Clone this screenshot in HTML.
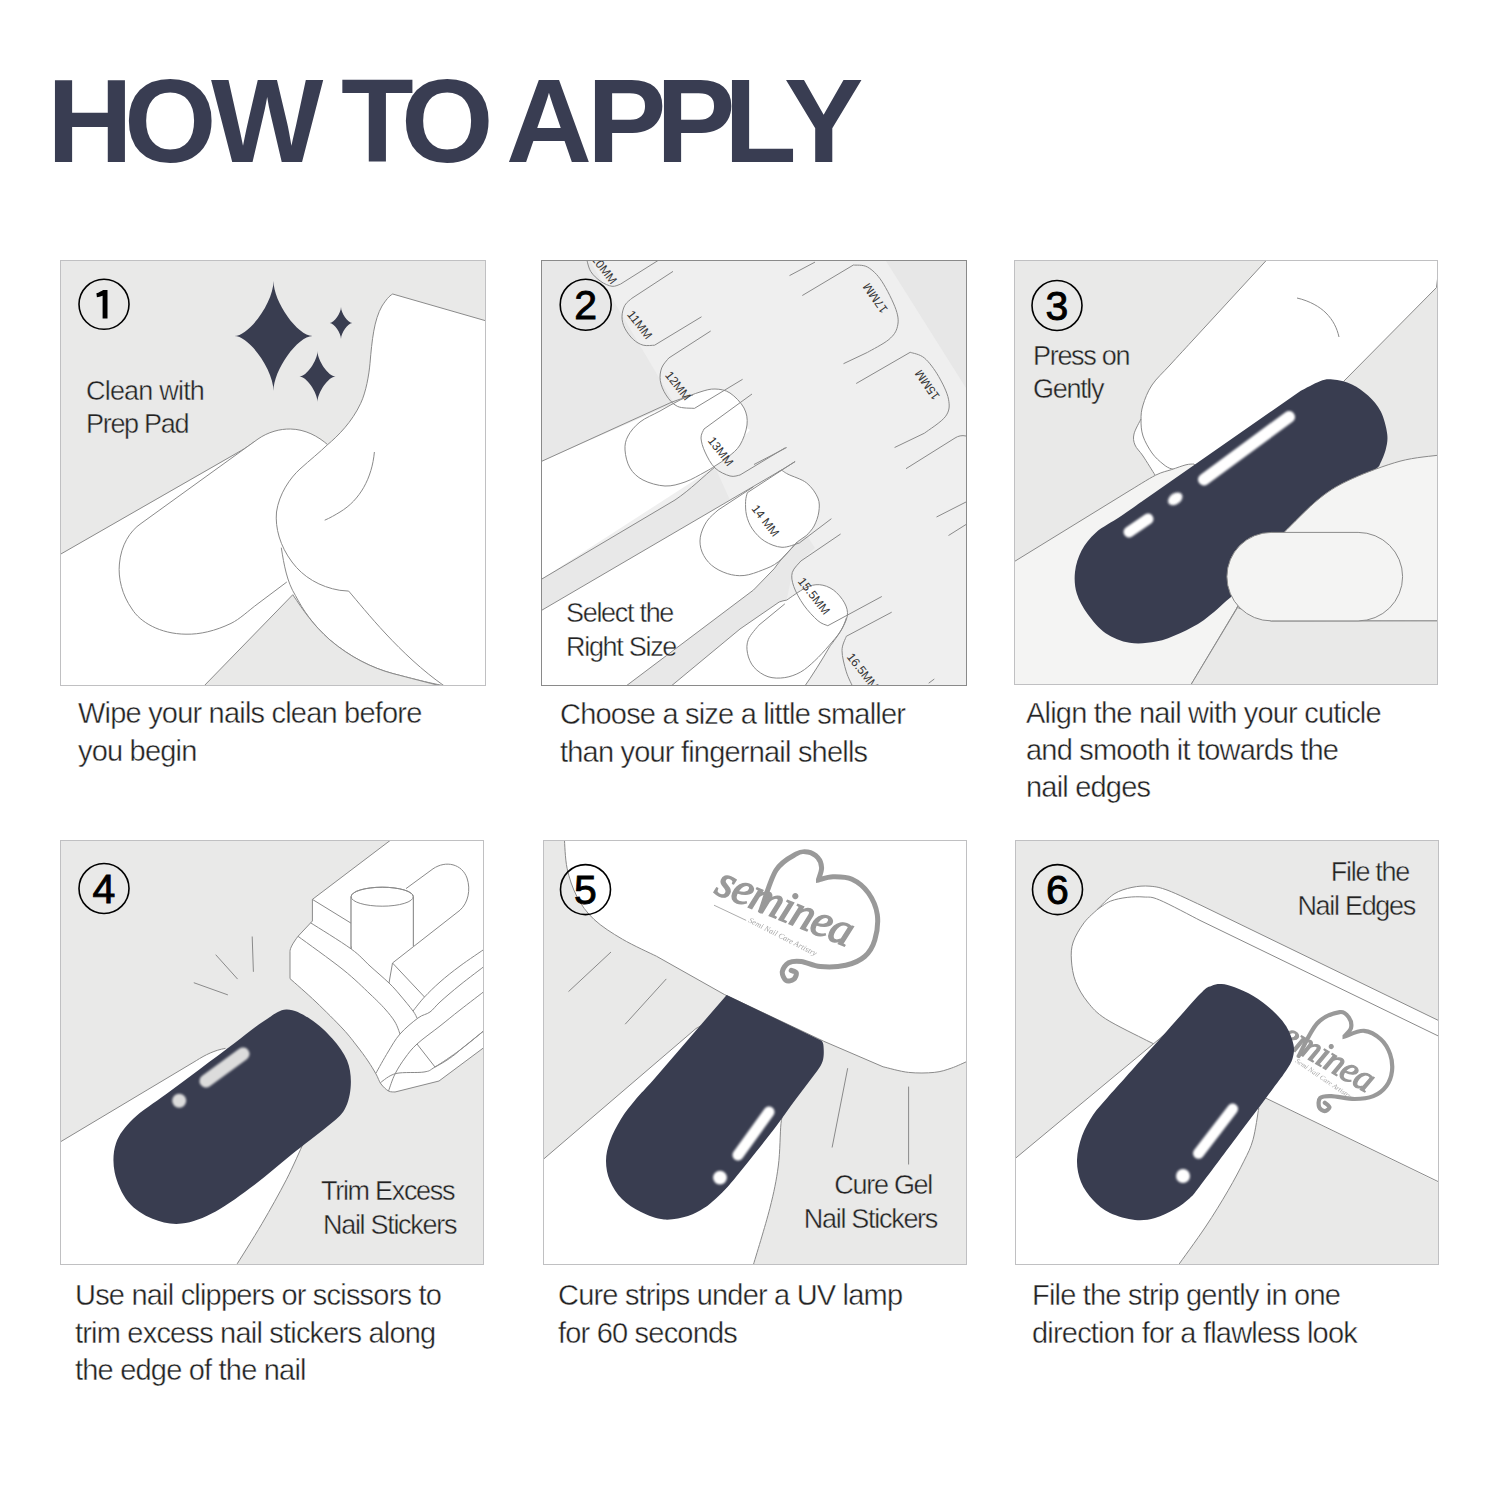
<!DOCTYPE html>
<html><head><meta charset="utf-8">
<style>
html,body{margin:0;padding:0;background:#fff;width:1500px;height:1500px;overflow:hidden}
svg{position:absolute;left:0;top:0}
text{font-family:"Liberation Sans",sans-serif}
.t{font-size:119px;font-weight:bold;fill:#393d52;letter-spacing:0}
.cap{font-size:29px;fill:#222;stroke:#fff;stroke-width:0.4px;letter-spacing:-0.8px}
.lab{font-size:27px;fill:#222;stroke:#e9e9e8;stroke-width:0.4px;letter-spacing:-1.3px}
.num{font-size:41px;fill:#000;font-weight:normal;stroke:#000;stroke-width:0.9px}
.ln{fill:none;stroke:#8a8a8a;stroke-width:1}
.lw{fill:#fff;stroke:#8a8a8a;stroke-width:1}
.lg{fill:#e9e9e8;stroke:#8a8a8a;stroke-width:1}
.navy{fill:#393d50}
</style></head>
<body>
<svg width="1500" height="1500" viewBox="0 0 1500 1500">
<defs><filter id="blur1" x="-50%" y="-50%" width="200%" height="200%"><feGaussianBlur stdDeviation="0.8"/></filter></defs>
<text class="t" x="47 124 211 341 401 506 587 656 724 784" y="162">HOWTOAPPLY</text>

<!-- panel boxes -->
<rect x="60.5" y="260.5" width="425" height="425" fill="#e9e9e8" stroke="#c0c0c2"/>
<rect x="541.5" y="260.5" width="425" height="425" fill="#efefef" stroke="#8a8a8a"/>
<rect x="1014.5" y="260.5" width="423" height="424" fill="#e9e9e8" stroke="#c0c0c2"/>
<rect x="60.5" y="840.5" width="423" height="424" fill="#e9e9e8" stroke="#c0c0c2"/>
<rect x="543.5" y="840.5" width="423" height="424" fill="#e9e9e8" stroke="#c0c0c2"/>
<rect x="1015.5" y="840.5" width="423" height="424" fill="#e9e9e8" stroke="#c0c0c2"/>


<!-- PANEL 1 -->
<clipPath id="c1"><rect x="61" y="261" width="424" height="424"/></clipPath>
<g clip-path="url(#c1)">
<path d="M60,554.5 L245,449 L330,444 L350,591 L450,690 L60,690Z" fill="#fff"/>
<path class="ln" d="M60,554.5 L243,449.5 C247,447 250,445 254,442"/>
<path fill="#fff" d="M286.8,582 L258,603.6 C248,611 240,619 231,623.4 C215,631 200,634.5 186,634.2 C160,634 140,622 132,609 C122,595 118,578 119.4,564 C121,545 130,531 141,523.5 L258,439 C268,432 280,428.8 290.4,429 C305,429.3 318,436 328.2,445.2 L300,600Z"/>
<path class="ln" d="M286.8,582 L258,603.6 C248,611 240,619 231,623.4 C215,631 200,634.5 186,634.2 C160,634 140,622 132,609 C122,595 118,578 119.4,564 C121,545 130,531 141,523.5 L258,439 C268,432 280,428.8 290.4,429 C305,429.3 318,436 328.2,445.2"/>
<path class="lw" d="M392.7,294 L490,322 L490,690 L444.4,690 L444.4,686 C400,655 365,610 348.7,591.1 L339.8,590.3 C320,587 303,577 292,562 C280,546 275,528 276.5,512 C279,494 290,478 300,469 C310,460 320,452 327.4,444.8 C338,436 352,422 360.7,403.3 C366,392 369,375 370,363.3 C372,340 374,320 382,306 C386,300 389,296 392.7,294Z"/>
<path class="ln" d="M281.3,547.7 C284,565 287,582 295.5,595.6 C303,610 313,625 330,640 C350,657 372,668 393,673.6 C410,678 425,682 445,686"/>
<path class="lg" d="M203,687 L292.8,594.7 C303,610 313,625 330,640 C350,657 372,668 393,673.6 C410,678 425,682 445,687Z"/>
<path class="ln" d="M374.4,452 C372,478 360,500 340,512 C335,515 330,518 324.7,520.2"/>
</g>
<path class="navy" d="M273.5,281.0 C273.5,301.9 297.7,336.0 312.5,336.0 C297.7,336.0 273.5,370.1 273.5,391.0 C273.5,370.1 249.3,336.0 234.5,336.0 C249.3,336.0 273.5,301.9 273.5,281.0Z"/>
<path class="navy" d="M341.0,307.0 C341.0,313.1 348.0,323.0 352.2,323.0 C348.0,323.0 341.0,332.9 341.0,339.0 C341.0,332.9 334.0,323.0 329.8,323.0 C334.0,323.0 341.0,313.1 341.0,307.0Z"/>
<path class="navy" d="M317.5,351.0 C317.5,360.7 328.7,376.5 335.5,376.5 C328.7,376.5 317.5,392.3 317.5,402.0 C317.5,392.3 306.3,376.5 299.5,376.5 C306.3,376.5 317.5,360.7 317.5,351.0Z"/>
<circle cx="104" cy="304.3" r="25" fill="none" stroke="#000" stroke-width="1.6"/>
<path d="M107.5,290 L107.5,318.5 L102.6,318.5 L102.6,295.8 C100.5,296.5 98.5,297 96.9,297.3 L96.4,293.3 C99,292.5 101,291.3 103.2,290Z" fill="#000"/>
<text class="lab" x="86" y="399.5" style="letter-spacing:-0.8px">Clean with</text>
<text class="lab" x="86" y="432.5">Prep Pad</text>



<!-- PANEL 2 -->
<clipPath id="c2"><rect x="542" y="261" width="424" height="424"/></clipPath>
<g clip-path="url(#c2)">
<path d="M542,261 L590,261 L674,403 L541,461.6Z" fill="#e8e8e8"/>
<path d="M886,261 L966,261 L966,388Z" fill="#e7e7e7"/>
<path fill="#e8e8e8" d="M541,579.5 L675,500 C690,490 705,475 715,467 L730,500 L541,610.7Z"/>
<path fill="#e8e8e8" d="M623.4,688 L753.5,590 L774,568.9 C780,560 790,550 797.3,541.9 L806.7,535.3 L815,548 L800.9,561 L792.3,572.4 L786.7,600.1 L740,629 L668.8,688Z"/>
<path fill="#fff" d="M541,461.6 L693,395 L750,430 L715,467 L541,579.5Z"/>
<path fill="#fff" d="M541,610.7 L781.5,470 C782.6,470.7 783.8,472.0 788.0,474.2 C792.2,476.4 801.7,479.0 806.7,483.0 C811.7,487.0 815.9,493.2 817.9,498.0 C819.9,502.8 819.4,507.3 818.8,512.0 C818.2,516.7 816.1,522.1 814.1,526.0 C812.1,529.9 807.9,533.8 806.7,535.3 L797.3,541.9 C790,550 780,560 774,568.9 L753.5,590 L623.4,688 L541,688Z"/>
<path fill="#fff" d="M668.8,688 L740,629 L779.2,602 C782,601 784,600.5 786.7,600.1 C789.8,598.1 799.9,590.6 805.3,588.0 C810.7,585.4 814.6,584.4 819.3,584.7 C824.0,585.0 829.1,586.9 833.3,589.9 C837.5,592.9 842.2,598.5 844.5,602.9 C846.8,607.2 848.0,611.1 847.3,616.0 C846.5,620.9 843.0,626.9 840.0,632.0 C837.0,637.1 831.3,644.3 829.6,646.8 L803.5,688Z"/>
<path class="lw" d="M680.0,400.0 C673.3,403.2 666.7,407.3 660.0,411.0 C653.3,414.7 645.3,417.8 640.0,422.0 C634.7,426.2 630.5,431.3 628.0,436.0 C625.5,440.7 624.7,444.7 625.0,450.0 C625.3,455.3 627.0,463.0 630.0,468.0 C633.0,473.0 637.2,477.0 643.0,480.0 C648.8,483.0 658.0,485.7 665.0,486.0 C672.0,486.3 678.3,484.3 685.0,482.0 C691.7,479.7 700.0,474.7 705.0,472.0 C710.0,469.3 711.2,468.5 715.0,466.0 C718.8,463.5 723.8,460.5 728.0,457.0 C732.2,453.5 736.8,450.3 740.0,445.0 C743.2,439.7 746.3,431.2 747.0,425.0 C747.7,418.8 746.8,413.3 744.0,408.0 C741.2,402.7 734.8,396.2 730.0,393.0 C725.2,389.8 720.0,389.2 715.0,389.0 C710.0,388.8 705.8,390.2 700.0,392.0 C694.2,393.8 686.7,396.8 680.0,400.0Z"/>
<g class="ln">
<path d="M753.5,486.8 L718,510.1 C716.1,512.0 709.8,516.8 706.8,521.3 C703.8,525.8 701.1,532.1 700.3,537.2 C699.5,542.3 700.2,547.4 702.1,552.1 C704.0,556.8 707.3,561.6 711.5,565.2 C715.7,568.8 721.9,571.9 727.3,573.6 C732.7,575.3 738.2,576.1 744.1,575.5 C750.0,574.9 757.0,572.2 762.8,569.9 C768.6,567.6 773.0,566.2 778.7,561.5 C784.5,556.8 794.2,545.2 797.3,541.9"/>
<path d="M784.8,603.9 L758.7,625.3 C757.0,627.6 750.3,634.6 748.4,639.3 C746.5,644.0 746.6,648.6 747.5,653.3 C748.4,658.0 750.6,663.4 754.0,667.3 C757.4,671.2 762.9,675.0 768.0,676.7 C773.1,678.4 779.3,678.4 784.8,677.6 C790.2,676.8 795.7,674.8 800.7,672.0 C805.7,669.2 810.0,665.1 814.7,660.8 C819.4,656.4 824.4,650.9 828.7,645.9 C833.1,640.9 837.8,635.6 840.8,630.9 C843.8,626.2 845.5,620.1 846.4,617.9"/>
<path d="M781.5,470.0 C782.6,470.7 783.8,472.0 788.0,474.2 C792.2,476.4 801.7,479.0 806.7,483.0 C811.7,487.0 815.9,493.2 817.9,498.0 C819.9,502.8 819.4,507.3 818.8,512.0 C818.2,516.7 816.1,522.1 814.1,526.0 C812.1,529.9 807.9,533.8 806.7,535.3"/>
<path d="M786.7,600.1 C789.8,598.1 799.9,590.6 805.3,588.0 C810.7,585.4 814.6,584.4 819.3,584.7 C824.0,585.0 829.1,586.9 833.3,589.9 C837.5,592.9 842.2,598.5 844.5,602.9 C846.8,607.2 848.0,611.1 847.3,616.0 C846.5,620.9 843.0,626.9 840.0,632.0 C837.0,637.1 831.3,644.3 829.6,646.8"/>
<path d="M541,461.6 L672,402 C680,399 687,397 693,395"/>
<path d="M541,579.5 L675,500 C690,490 705,475 715,467"/>
<path d="M541,610.7 L781.5,470"/>
<path d="M623.4,688 L753.5,590 L774,568.9 C780,560 790,550 797.3,541.9 L806.7,535.3"/>
<path d="M668.8,688 L740,629 L779.2,602 C782,601 784,600.5 786.7,600.1"/>
<path d="M803.5,688 C812,676 822,660 829.6,646.8"/>
<path d="M662.6,257.8 L586.4,258.0 C587.1,260.2 588.3,267.5 590.7,271.4 C593.1,275.3 597.1,278.8 600.6,281.3 C604.1,283.8 608.7,285.8 612.0,286.3 C615.3,286.8 619.1,284.5 620.5,284.1 L662.0,258.0"/>
<path d="M673.0,271.4 L631.9,298.3 C630.7,299.5 626.4,302.3 624.8,305.4 C623.1,308.5 622.0,313.0 622.0,316.8 C622.0,320.6 622.9,324.4 624.8,328.2 C626.7,332.0 630.2,336.7 633.3,339.5 C636.4,342.3 639.7,344.2 643.2,345.2 C646.8,346.1 652.7,345.2 654.6,345.2 L701.5,316.8"/>
<path d="M710.7,331.0 L668.8,358.0 C667.6,359.6 663.1,364.1 661.7,367.9 C660.3,371.7 659.6,376.2 660.3,380.7 C661.0,385.2 663.2,390.6 666.0,394.9 C668.8,399.2 672.6,404.1 677.3,406.3 C682.0,408.6 691.5,408.0 694.4,408.4 L742.6,379.3"/>
<path d="M752.0,394.0 L704.0,429.0 C703.5,430.5 700.8,434.2 701.0,438.0 C701.2,441.8 702.7,447.0 705.0,452.0 C707.3,457.0 710.8,464.0 715.0,468.0 C719.2,472.0 725.8,474.8 730.0,476.0 C734.2,477.2 738.3,475.2 740.0,475.0 L785.5,447.6"/>
<path d="M795.0,461.5 L747.3,492.7 C747.0,494.1 745.7,497.6 745.6,501.3 C745.5,505.1 745.4,510.6 746.5,515.2 C747.6,519.8 749.5,524.8 752.5,529.1 C755.5,533.4 759.8,538.2 764.7,541.2 C769.6,544.2 776.2,547.0 782.0,547.3 C787.8,547.6 796.4,543.7 799.3,543.0 L831.4,518.7"/>
<path d="M840.6,534.0 L800.9,561.0 C799.5,562.9 793.5,568.1 792.3,572.4 C791.1,576.7 791.9,581.2 793.8,586.6 C795.7,592.0 799.7,599.3 803.7,605.0 C807.7,610.7 813.9,617.2 817.9,620.7 C821.9,624.2 826.1,624.9 827.8,625.7 L881.8,596.5"/>
<path d="M891.7,612.2 L846.3,636.3 C845.6,638.7 842.0,644.6 842.0,650.5 C842.0,656.4 844.4,665.5 846.3,671.8 C848.2,678.0 852.2,685.3 853.4,688.0 L853.4,688.0"/>
<path d="M802.3,295.5 L853.4,265 C855.8,265.4 862.9,264.4 867.6,267.1 C872.3,269.8 877.1,274.2 881.8,281.3 C886.5,288.4 893.4,302.1 896.0,309.7 C898.6,317.3 898.6,321.7 897.4,326.7 C896.2,331.7 893.9,335.2 888.9,339.5 C883.9,343.8 871.1,350.2 867.6,352.3 L843.5,363.7"/>
<path d="M856.2,383.5 L910.2,352.3 C912.6,353.2 919.7,354.0 924.4,358.0 C929.1,362.0 934.6,369.5 938.6,376.4 C942.6,383.3 947.3,392.6 948.5,399.2 C949.7,405.8 949.7,410.5 945.7,416.2 C941.7,421.9 928.0,430.4 924.4,433.2 L894.6,447.5"/>
<path d="M906,468.7 L955,438 C958,436 962,435 966,436"/>
<path d="M789.5,275.6 L815,262.1 M754,464.5 L786.7,447.5 M776.7,473 L795.2,461.6 M936.5,517 L966,502 M948.5,535.5 L966,524.5 M928.7,683.2 L934.3,679"/>
</g>
<text x="0" y="0" transform="translate(603.5,270.0) rotate(52)" text-anchor="middle" dominant-baseline="middle" style="font-family:'Liberation Sans';font-size:12px" fill="#333">10MM</text>
<text x="0" y="0" transform="translate(639.0,325.3) rotate(52)" text-anchor="middle" dominant-baseline="middle" style="font-family:'Liberation Sans';font-size:12px" fill="#333">11MM</text>
<text x="0" y="0" transform="translate(677.3,386.4) rotate(52)" text-anchor="middle" dominant-baseline="middle" style="font-family:'Liberation Sans';font-size:12px" fill="#333">12MM</text>
<text x="0" y="0" transform="translate(720.0,452.0) rotate(52)" text-anchor="middle" dominant-baseline="middle" style="font-family:'Liberation Sans';font-size:12px" fill="#333">13MM</text>
<text x="0" y="0" transform="translate(764.7,521.3) rotate(52)" text-anchor="middle" dominant-baseline="middle" style="font-family:'Liberation Sans';font-size:12px" fill="#333">14 MM</text>
<text x="0" y="0" transform="translate(813.2,596.7) rotate(52)" text-anchor="middle" dominant-baseline="middle" style="font-family:'Liberation Sans';font-size:12px" fill="#333">15.5MM</text>
<text x="0" y="0" transform="translate(862.0,672.0) rotate(52)" text-anchor="middle" dominant-baseline="middle" style="font-family:'Liberation Sans';font-size:12px" fill="#333">16.5MM</text>
<text x="0" y="0" transform="translate(876.1,297.6) rotate(235)" text-anchor="middle" dominant-baseline="middle" style="font-family:'Liberation Sans';font-size:12px" fill="#333">17MM</text>
<text x="0" y="0" transform="translate(928,384.3) rotate(235)" text-anchor="middle" dominant-baseline="middle" style="font-family:'Liberation Sans';font-size:12px" fill="#333">15MM</text>

</g>
<circle cx="585.7" cy="304.7" r="25.5" fill="none" stroke="#000" stroke-width="1.6"/>
<text class="num" x="585.7" y="319" text-anchor="middle">2</text>
<text class="lab" x="566" y="621.5" style="stroke:#fff">Select the</text>
<text class="lab" x="566" y="655.5" style="stroke:#fff">Right Size</text>

<!-- PANEL 3 -->
<clipPath id="c3"><rect x="1015" y="261" width="422" height="423"/></clipPath>
<g clip-path="url(#c3)">
<path style="fill:#fff;stroke:none" d="M1141.0,419.0 C1139.8,421.5 1135.0,429.7 1134.0,434.0 C1133.0,438.3 1133.5,441.3 1135.0,445.0 C1136.5,448.7 1139.7,451.0 1143.0,456.0 C1146.3,461.0 1153.0,471.8 1155.0,475.0 L1175,470Z"/>
<path class="lw" d="M1268.5,258 L1193,340 C1189.2,344.2 1176.8,357.5 1170.0,365.0 C1163.2,372.5 1156.5,378.3 1152.0,385.0 C1147.5,391.7 1144.8,399.2 1143.0,405.0 C1141.2,410.8 1141.0,414.8 1141.0,420.0 C1141.0,425.2 1141.2,430.5 1143.0,436.0 C1144.8,441.5 1148.7,448.3 1152.0,453.0 C1155.3,457.7 1159.7,461.3 1163.0,464.0 C1166.3,466.7 1168.3,468.0 1172.0,469.0 C1175.7,470.0 1182.8,469.8 1185.0,470.0 L1300,470 L1344,381 L1436.5,287.5 L1440,258Z"/>
<path class="ln" d="M1141.0,419.0 C1139.8,421.5 1135.0,429.7 1134.0,434.0 C1133.0,438.3 1133.5,441.3 1135.0,445.0 C1136.5,448.7 1139.7,451.0 1143.0,456.0 C1146.3,461.0 1153.0,471.8 1155.0,475.0"/>
<path class="ln" d="M1297,298 C1310,301 1320,307 1326,313 C1333,320 1337,328 1339,337"/>
<path class="lw" style="fill:#f4f4f3" d="M1012,563 L1130,490.4  C1134.3,487.9 1148.7,478.7 1155.6,475.2 C1162.5,471.7 1166.5,471.3 1171.6,469.6 C1176.7,467.9 1182.3,465.7 1186.0,464.8 C1189.7,463.9 1192.7,464.1 1194.0,464.0 L1260,560 L1236.8,608 L1189,688 L1012,688Z"/>
<path class="navy" d="M1144,500 L1300.8,390.8  C1304.0,389.2 1314.7,383.1 1320.0,381.2 C1325.3,379.3 1327.5,379.1 1332.8,379.6 C1338.1,380.1 1346.1,381.7 1352.0,384.4 C1357.9,387.1 1363.2,391.1 1368.0,395.6 C1372.8,400.1 1377.6,405.2 1380.8,411.6 C1384.0,418.0 1386.4,427.6 1387.2,434.0 C1388.0,440.4 1386.9,444.7 1385.6,450.0 C1384.3,455.3 1380.3,463.3 1379.2,466.0 L1300,540 L1228,599.6  C1224.0,603.0 1212.0,614.4 1204.0,620.0 C1196.0,625.6 1188.0,629.6 1180.0,633.2 C1172.0,636.8 1164.4,640.0 1156.0,641.6 C1147.6,643.2 1138.0,644.2 1129.6,642.8 C1121.2,641.4 1112.6,638.0 1105.6,633.2 C1098.6,628.4 1092.4,620.6 1087.6,614.0 C1082.8,607.4 1078.9,600.6 1076.8,593.6 C1074.7,586.6 1074.2,579.2 1075.0,572.0 C1075.8,564.8 1078.1,557.0 1081.6,550.4 C1085.1,543.8 1089.6,538.0 1096.0,532.4 C1102.4,526.8 1112.0,522.2 1120.0,516.8 C1128.0,511.4 1140.0,502.8 1144.0,500.0Z"/>
<path class="lw" style="fill:#f4f4f3" d="M1284.8,531.6 C1290.7,526.0 1308.8,506.8 1320.0,498.0 C1331.2,489.2 1338.7,484.9 1352.0,478.8 C1365.3,472.7 1385.3,465.2 1400.0,461.2 C1414.7,457.2 1433.3,456.0 1440.0,455.0 L1440,621 L1249,621 L1236.8,608Z"/>
<path class="lg" d="M1189,688 L1237.5,607.5 L1271,621 L1440,620.9 L1440,688Z"/>
<rect x="1226.9" y="532.4" width="175.7" height="88.5" rx="44.5" ry="44.25" class="lw" style="fill:#f4f4f3"/>
<g stroke="#fff" stroke-linecap="round" fill="none" filter="url(#blur1)">
<line x1="1204" y1="479.5" x2="1289" y2="417" stroke-width="12"/>
<line x1="1129" y1="532" x2="1148" y2="519" stroke-width="11"/>
</g>
<ellipse cx="1175.2" cy="498.8" rx="8" ry="5.5" transform="rotate(-35 1175.2 498.8)" fill="#fff" filter="url(#blur1)"/>
</g>
<circle cx="1057" cy="305.5" r="25" fill="none" stroke="#000" stroke-width="1.6"/>
<text class="num" x="1057" y="320" text-anchor="middle">3</text>
<text class="lab" x="1033" y="365">Press on</text>
<text class="lab" x="1033" y="398">Gently</text>

<!-- PANEL 4 -->
<clipPath id="c4"><rect x="61" y="841" width="422" height="423"/></clipPath>
<g clip-path="url(#c4)">
<path fill="#fff" d="M58,1143.3 L196.3,1060.6 C205,1055 215,1050 225.5,1048.4 L330,1100 L303.3,1143.3  C300.5,1149.4 293.2,1166.4 286.3,1179.8 C279.4,1193.2 270.5,1209.1 262.0,1223.6 C253.5,1238.1 239.7,1259.8 235.2,1267.0 L58,1267Z"/>
<path class="ln" d="M58,1143.3 L196.3,1060.6 C205,1055 215,1050 225.5,1048.4"/>
<path class="ln" d="M303.3,1143.3 C300.5,1149.4 293.2,1166.4 286.3,1179.8 C279.4,1193.2 270.5,1209.1 262.0,1223.6 C253.5,1238.1 239.7,1259.8 235.2,1267.0"/>
<path class="lw" d="M393.4,838 L312.4,899.4 L312.4,921 L298,936.3 C293,943 290,948 290,951.6 L290,978.6  C294.3,982.5 307.2,993.6 316.0,1002.0 C324.8,1010.4 336.2,1021.7 343.0,1029.0 C349.8,1036.3 352.8,1040.7 357.0,1046.0 C361.2,1051.3 364.8,1056.3 368.0,1061.0 C371.2,1065.7 373.8,1070.2 376.0,1074.0 C378.2,1077.8 378.9,1081.2 381.0,1084.0 C383.1,1086.8 386.2,1089.7 388.5,1091.0 C390.8,1092.3 393.9,1091.8 395.0,1092.0 L439,1081 L486,1046 L486,838Z"/>
<g class="ln">
<path d="M310.6,922.8 C317.4,927.1 341.2,941.7 351.1,948.9 C361.0,956.1 363.7,960.3 370.0,966.0 C376.3,971.7 384.0,978.2 389.0,983.0 C394.0,987.8 396.0,990.3 400.0,995.0 C404.0,999.7 410.2,1007.2 413.0,1011.0 C415.8,1014.8 416.3,1016.8 417.0,1018.0"/><path d="M298.0,936.3 C305.5,941.8 331.0,960.0 343.0,969.6 C355.0,979.2 363.0,987.4 370.0,994.0 C377.0,1000.6 380.8,1004.3 385.0,1009.0 C389.2,1013.7 392.5,1017.8 395.0,1022.0 C397.5,1026.2 399.2,1032.0 400.0,1034.0"/><path d="M486.0,965.0 C481.7,968.3 467.7,978.8 460.0,985.0 C452.3,991.2 445.0,997.5 440.0,1002.0 C435.0,1006.5 433.7,1009.3 430.0,1012.0 C426.3,1014.7 423.0,1014.3 418.0,1018.0 C413.0,1021.7 405.0,1028.3 400.0,1034.0 C395.0,1039.7 392.0,1045.5 388.0,1052.0 C384.0,1058.5 378.0,1069.5 376.0,1073.0"/><path d="M486.0,990.0 C481.7,993.3 467.7,1004.0 460.0,1010.0 C452.3,1016.0 447.2,1020.3 440.0,1026.0 C432.8,1031.7 422.8,1038.7 417.0,1044.0 C411.2,1049.3 408.7,1053.0 405.0,1058.0 C401.3,1063.0 397.8,1068.5 395.0,1074.0 C392.2,1079.5 389.6,1088.2 388.5,1091.0"/><path d="M486.0,1029.0 C481.7,1032.5 468.5,1043.7 460.0,1050.0 C451.5,1056.3 441.0,1063.3 435.0,1067.0 C429.0,1070.7 430.5,1070.9 424.0,1072.0 C417.5,1073.1 403.2,1071.8 396.0,1073.5 C388.8,1075.2 383.1,1081.0 380.5,1082.5"/><path d="M413.0,1011.0 C414.9,1008.7 420.0,1001.8 424.5,997.0 C429.0,992.2 434.1,987.2 440.0,982.0 C445.9,976.8 452.3,971.7 460.0,966.0 C467.7,960.3 481.7,951.0 486.0,948.0"/>
<path d="M312.4,899.4 L351.1,923.2"/>
<path d="M392.5,963 L389,983"/>
<path d="M392.5,963 L424.5,997"/>
<path d="M417,1044 L435,1067"/>
<path d="M435,1067 C445,1062 455,1055 460,1050 L486,1029"/>
<path d="M406,888.6 L433,868.8 C446,860 462,864 467,878 C471,890 468,903 460,910.2 L392.5,963"/>
<path d="M351.1,897 L351.1,948.9 M413.3,897 L413.3,946.4"/>
<path d="M193.8,982.7 L227.9,994.9 M215.7,954.7 L237.6,979.1 M252.2,936.5 L253.4,971.8"/>
</g>
<path fill="#fff" stroke="#8a8a8a" d="M351.1,896.7 L351.1,897 A31.1,9.5 0 0 1 413.3,896.7 L413.3,946.4 L351.1,946.4Z" style="stroke:none"/>
<path class="ln" d="M351.1,948.9 L351.1,896.7 A31.1,9.5 0 0 1 413.3,896.7 L413.3,946.4"/>
<ellipse class="ln" cx="382.2" cy="896.7" rx="31.1" ry="9.5"/>
<path class="navy" d="M286.3,1009.5 C294.1,1009.2 302.9,1014.3 310.6,1019.2 C318.3,1024.1 326.4,1031.8 332.5,1038.7 C338.6,1045.6 344.1,1052.9 347.1,1060.6 C350.2,1068.3 351.2,1076.9 350.8,1085.0 C350.4,1093.1 348.6,1102.3 344.7,1109.2 C340.8,1116.1 336.6,1118.7 327.6,1126.3 C318.7,1133.9 303.2,1145.3 291.0,1155.0 C278.8,1164.7 267.1,1175.3 254.6,1184.7 C242.0,1194.1 227.8,1204.9 215.7,1211.4 C203.5,1217.9 192.2,1222.4 181.7,1223.6 C171.2,1224.8 161.4,1222.3 152.5,1218.7 C143.6,1215.1 134.4,1209.4 128.1,1201.7 C121.8,1194.0 116.7,1182.2 114.7,1172.5 C112.7,1162.8 113.0,1152.2 116.0,1143.3 C119.0,1134.4 124.7,1127.2 133.0,1119.0 C141.3,1110.8 154.8,1102.6 166.0,1094.3 C177.2,1086.0 188.5,1077.6 200.0,1069.0 C211.5,1060.4 224.3,1050.8 235.0,1042.8 C245.7,1034.8 255.4,1026.5 264.0,1021.0 C272.6,1015.5 278.5,1009.8 286.3,1009.5Z"/>
<line x1="206" y1="1081" x2="243" y2="1054" stroke="#dcdcdc" stroke-width="13" stroke-linecap="round" filter="url(#blur1)"/>
<circle cx="179.2" cy="1100.7" r="7" fill="#dcdcdc" filter="url(#blur1)"/>
</g>
<circle cx="104" cy="888.5" r="25" fill="none" stroke="#000" stroke-width="1.6"/>
<text class="num" x="104" y="903" text-anchor="middle">4</text>
<text class="lab" x="321" y="1200">Trim Excess</text>
<text class="lab" x="323" y="1234">Nail Stickers</text>

<!-- PANEL 5 -->
<clipPath id="c5"><rect x="544" y="841" width="422" height="423"/></clipPath>
<g clip-path="url(#c5)">
<path fill="#fff" d="M541,1161.3 L696,1028.5 C702,1025 707,1023 713,1021.4 L800,1050 L784,1112 C783.5,1113.9 782.0,1114.4 781.0,1123.4 C780.0,1132.4 780.2,1151.8 778.3,1166.0 C776.4,1180.2 774.1,1191.7 769.8,1208.5 C765.5,1225.3 755.6,1257.2 752.7,1267.0 L541,1267Z"/>
<path class="ln" d="M541,1161.3 L696,1028.5 C702,1025 707,1023 713,1021.4"/>
<path class="ln" d="M784.0,1112.0 C783.5,1113.9 782.0,1114.4 781.0,1123.4 C780.0,1132.4 780.2,1151.8 778.3,1166.0 C776.4,1180.2 774.1,1191.7 769.8,1208.5 C765.5,1225.3 755.6,1257.2 752.7,1267.0"/>
<path class="lw" d="M564.3,838.0 C564.8,843.0 565.0,858.5 567.1,868.3 C569.2,878.1 572.5,888.2 577.0,896.7 C581.5,905.2 586.4,912.3 594.0,919.4 C601.6,926.5 612.0,933.1 622.4,939.2 C632.8,945.3 650.7,953.4 656.4,956.2 L724.4,994.5 L823.6,1041.2 L883.1,1066.8 C887.4,1067.7 900.1,1071.5 908.6,1072.4 C917.1,1073.3 927.1,1073.1 934.2,1072.4 C941.3,1071.7 945.6,1070.1 951.2,1068.2 C956.8,1066.3 965.2,1062.2 968.0,1061.0 L968,838Z"/>
<path class="navy" d="M726.7,994.9 L821.6,1040.8 C823.6,1043.0 823.5,1045.9 823.7,1049.3 C823.9,1052.7 823.8,1057.4 822.7,1061.0 C821.6,1064.6 819.8,1067.2 817.3,1070.7 L795.2,1100 C788.3,1109.3 782.5,1117.7 776.0,1126.4 C769.5,1135.1 762.0,1144.4 756.0,1152.0 C750.0,1159.6 744.7,1166.3 740.0,1172.0 C735.3,1177.7 732.0,1182.0 728.0,1186.4 C724.0,1190.8 720.0,1194.8 716.0,1198.4 C712.0,1202.0 708.7,1205.1 704.0,1208.0 C699.3,1210.9 694.7,1214.1 688.0,1216.0 C681.3,1217.9 671.8,1220.2 664.0,1219.5 C656.2,1218.8 648.0,1215.4 641.0,1212.0 C634.0,1208.6 627.2,1204.2 622.0,1199.0 C616.8,1193.8 612.7,1187.3 610.0,1181.0 C607.3,1174.7 606.0,1167.7 606.0,1161.0 C606.0,1154.3 607.5,1148.0 610.0,1141.0 C612.5,1134.0 616.7,1126.0 621.0,1119.0 C625.3,1112.0 630.6,1105.5 636.0,1099.0 C641.4,1092.5 644.3,1090.2 653.3,1080.0Z"/>
<g class="ln">
<path d="M568.5,991.6 L611,952 M625.2,1024.2 L666.3,978.9 M847.7,1068.2 L832.1,1147.5 M908.6,1086.6 L908.6,1164.5"/>
</g>
<line x1="738" y1="1155" x2="769" y2="1112" stroke="#fff" stroke-width="11" stroke-linecap="round" filter="url(#blur1)"/>
<circle cx="720" cy="1177.6" r="6.9" fill="#fff" filter="url(#blur1)"/>
<!-- logo -->
<g opacity="0.9">
<path d="M760.8,910.9 C763.3,904.1 770.1,879.8 776.0,870.3 C781.9,860.8 791.0,856.9 796.3,853.9 C801.6,850.9 804.1,851.4 807.7,852.0 C811.3,852.6 815.5,855.1 817.8,857.7 C820.1,860.3 821.5,864.2 821.6,867.8 C821.7,871.4 819.0,877.5 818.5,879.5 L818.5,880 C820.9,879.5 827.4,876.8 833.0,876.7 C838.6,876.6 846.1,876.5 852.0,879.2 C857.9,881.9 864.3,887.2 868.5,893.1 C872.7,899.0 876.2,906.9 877.3,914.7 C878.3,922.5 876.9,933.0 874.8,940.0 C872.7,947.0 869.6,952.3 864.7,956.5 C859.9,960.7 853.1,963.6 845.7,965.3 C838.3,967.0 827.7,967.2 820.3,966.6 C812.9,966.0 806.6,962.1 801.3,961.5 C796.0,960.9 791.9,961.1 788.7,962.8 C785.5,964.5 782.7,968.8 782.3,971.7 C781.9,974.7 784.2,979.2 786.1,980.5 C788.0,981.8 792.0,980.5 793.7,979.3 C795.4,978.0 796.7,974.5 796.3,973.0 C795.9,971.5 792.1,970.8 791.2,970.4" fill="none" stroke="#8e8e8e" stroke-width="5" stroke-linecap="round"/>
<text x="0" y="0" transform="translate(713,893) rotate(22)" style="font-family:'Liberation Serif';font-style:italic;font-size:46px;letter-spacing:-1px" fill="#8e8e8e" stroke="#8e8e8e" stroke-width="1.4">seminea</text>
<text x="0" y="0" transform="translate(748,922) rotate(27)" style="font-family:'Liberation Serif';font-style:italic;font-size:8px" fill="#9a9a9a">Semi Nail Care Artistry</text>
<path d="M714,905.2 L746.2,920.4" stroke="#8a8a8a" stroke-width="0.8"/>
</g>
</g>
<circle cx="585.5" cy="889.6" r="25" fill="none" stroke="#000" stroke-width="1.6"/>
<text class="num" x="585.5" y="904" text-anchor="middle">5</text>
<text class="lab" x="932" y="1194" text-anchor="end">Cure Gel</text>
<text class="lab" x="937" y="1228" text-anchor="end">Nail Stickers</text>

<!-- PANEL 6 -->
<clipPath id="c6"><rect x="1016" y="841" width="422" height="423"/></clipPath>
<g clip-path="url(#c6)">
<path fill="#fff" d="M1097.2,909.6 C1100.0,907.0 1108.2,897.7 1114.0,894.0 C1119.8,890.3 1126.0,888.7 1132.0,887.4 C1138.0,886.1 1144.0,885.7 1150.0,886.2 C1156.0,886.7 1159.7,887.3 1168.0,890.4 C1176.3,893.5 1194.7,902.4 1200.0,904.8 L1441,1021.7 L1441,1184 L1146.4,1040.3 C1139.6,1036.7 1115.4,1025.2 1105.6,1018.8 C1095.8,1012.4 1092.6,1008.2 1087.6,1002.0 C1082.6,995.8 1078.3,988.6 1075.6,981.6 C1072.9,974.6 1071.8,966.6 1071.4,960.0 C1071.0,953.4 1071.1,948.2 1073.2,942.0 C1075.3,935.8 1080.0,928.2 1084.0,922.8 C1088.0,917.4 1095.0,911.8 1097.2,909.6"/>
<path class="ln" d="M1097.2,909.6 C1100.0,907.0 1108.2,897.7 1114.0,894.0 C1119.8,890.3 1126.0,888.7 1132.0,887.4 C1138.0,886.1 1144.0,885.7 1150.0,886.2 C1156.0,886.7 1159.7,887.3 1168.0,890.4 C1176.3,893.5 1194.7,902.4 1200.0,904.8 L1441,1021.7"/>
<path class="ln" d="M1097.2,909.6 C1099.4,908.2 1105.4,903.2 1110.4,901.2 C1115.4,899.2 1121.6,898.1 1127.2,897.4 C1132.8,896.7 1138.6,896.6 1144.0,897.0 C1149.4,897.4 1150.3,896.1 1159.6,900.0 C1168.9,903.9 1193.3,917.0 1200.0,920.4 L1441,1037.3"/>
<path class="ln" d="M1097.2,909.6 C1095.0,911.8 1088.0,917.4 1084.0,922.8 C1080.0,928.2 1075.3,935.8 1073.2,942.0 C1071.1,948.2 1071.0,953.4 1071.4,960.0 C1071.8,966.6 1072.9,974.6 1075.6,981.6 C1078.3,988.6 1082.6,995.8 1087.6,1002.0 C1092.6,1008.2 1095.8,1012.4 1105.6,1018.8 C1115.4,1025.2 1139.6,1036.7 1146.4,1040.3 L1441,1183"/>
<path d=""/>
<g opacity="0.9">
<path d="M1298.7,1056.0 C1301.8,1050.5 1310.5,1030.6 1317.3,1023.3 C1324.1,1016.0 1334.4,1013.0 1339.7,1012.1 C1345.0,1011.2 1347.1,1015.1 1349.0,1017.7 C1350.9,1020.4 1351.7,1025.0 1351.0,1028.0 C1350.3,1031.0 1345.7,1034.7 1344.6,1036.0 L1344.6,1036.4 C1347.8,1035.5 1358.0,1030.3 1364.0,1030.8 C1370.0,1031.3 1376.5,1035.3 1380.8,1039.2 C1385.1,1043.1 1388.2,1048.8 1390.1,1054.1 C1392.0,1059.4 1392.6,1065.6 1392.0,1070.9 C1391.4,1076.2 1389.5,1081.7 1386.4,1085.9 C1383.3,1090.1 1378.6,1093.9 1373.3,1096.1 C1368.0,1098.3 1361.7,1099.0 1354.7,1099.0 C1347.7,1099.0 1337.1,1096.3 1331.3,1096.1 C1325.5,1095.9 1322.1,1096.1 1320.1,1098.0 C1318.1,1099.9 1318.4,1105.1 1319.2,1107.3 C1320.0,1109.5 1323.1,1111.1 1324.8,1111.1 C1326.5,1111.1 1329.5,1108.7 1329.5,1107.3 C1329.5,1105.9 1325.6,1103.5 1324.8,1102.7" fill="none" stroke="#8e8e8e" stroke-width="4.2" stroke-linecap="round"/>
<text x="0" y="0" transform="translate(1266,1035) rotate(30)" style="font-family:'Liberation Serif';font-style:italic;font-size:37px;letter-spacing:-0.8px" fill="#8e8e8e" stroke="#8e8e8e" stroke-width="1.2">seminea</text>
<text x="0" y="0" transform="translate(1295,1062) rotate(34)" style="font-family:'Liberation Serif';font-style:italic;font-size:7px" fill="#9a9a9a">Semi Nail Care Artistry</text>
</g>
<path fill="#fff" d="M1013,1160.3 L1173.7,1027 L1260,1080 L1258.8,1112 C1257.8,1113.3 1255.5,1130.8 1253.0,1139.7 C1250.5,1148.6 1248.1,1152.7 1243.9,1161.2 C1239.7,1169.7 1234.4,1179.7 1228.0,1190.7 C1221.6,1201.7 1213.9,1214.3 1205.4,1227.0 C1196.9,1239.7 1181.7,1260.3 1177.0,1267.0 L1013,1267Z"/>
<path class="ln" d="M1013,1160.3 L1173.7,1027 C1180,1022 1188,1018 1195,1016"/>
<path class="ln" d="M1258.8,1108.0 C1257.8,1113.3 1255.5,1130.8 1253.0,1139.7 C1250.5,1148.6 1248.1,1152.7 1243.9,1161.2 C1239.7,1169.7 1234.4,1179.7 1228.0,1190.7 C1221.6,1201.7 1213.9,1214.3 1205.4,1227.0 C1196.9,1239.7 1181.7,1260.3 1177.0,1267.0"/>
<path class="navy" d="M1221.6,984.0 C1225.5,984.2 1229.4,985.3 1234.7,987.3 C1240.0,989.3 1247.1,992.3 1253.3,996.1 C1259.5,999.9 1266.5,1005.1 1272.0,1010.1 C1277.5,1015.1 1282.4,1020.2 1286.0,1026.0 C1289.6,1031.8 1292.4,1039.2 1293.5,1044.7 C1294.6,1050.2 1293.8,1054.4 1292.5,1058.7 C1291.2,1063.0 1289.4,1065.6 1286.0,1070.8 C1282.6,1076.0 1280.3,1078.8 1272.0,1090.0 C1263.7,1101.2 1248.0,1122.0 1236.0,1138.0 C1224.0,1154.0 1207.7,1176.0 1200.0,1186.0 C1192.3,1196.0 1194.2,1194.2 1190.0,1198.0 C1185.8,1201.8 1180.8,1205.7 1175.0,1209.0 C1169.2,1212.3 1161.7,1216.2 1155.0,1218.0 C1148.3,1219.8 1142.5,1220.8 1135.0,1220.0 C1127.5,1219.2 1117.0,1216.3 1110.0,1213.0 C1103.0,1209.7 1097.8,1205.2 1093.0,1200.0 C1088.2,1194.8 1083.7,1188.7 1081.0,1182.0 C1078.3,1175.3 1076.8,1167.7 1077.0,1160.0 C1077.2,1152.3 1079.3,1143.5 1082.0,1136.0 C1084.7,1128.5 1088.7,1121.5 1093.0,1115.0 C1097.3,1108.5 1102.7,1103.2 1108.0,1097.0 C1113.3,1090.8 1116.0,1088.1 1125.0,1078.0 C1134.0,1067.9 1149.5,1050.6 1162.0,1036.6 C1174.5,1022.6 1191.8,1002.5 1200.0,994.0 C1208.2,985.5 1207.7,987.6 1211.3,985.9 C1214.9,984.2 1217.7,983.8 1221.6,984.0Z"/>
<line x1="1198.5" y1="1153.3" x2="1232.6" y2="1109" stroke="#fff" stroke-width="11" stroke-linecap="round" filter="url(#blur1)"/>
<circle cx="1183" cy="1176" r="7" fill="#fff" filter="url(#blur1)"/>
</g>
<circle cx="1057.5" cy="889.6" r="25" fill="none" stroke="#000" stroke-width="1.6"/>
<text class="num" x="1057.5" y="904" text-anchor="middle">6</text>
<text class="lab" x="1409" y="881" text-anchor="end">File the</text>
<text class="lab" x="1415" y="914.5" text-anchor="end">Nail Edges</text>
<!-- captions -->
<text class="cap" x="78" y="723">Wipe your nails clean before</text>
<text class="cap" x="78" y="761">you begin</text>
<text class="cap" x="560" y="724">Choose a size a little smaller</text>
<text class="cap" x="560" y="762">than your fingernail shells</text>
<text class="cap" x="1026" y="723">Align the nail with your cuticle</text>
<text class="cap" x="1026" y="760">and smooth it towards the</text>
<text class="cap" x="1026" y="797">nail edges</text>
<text class="cap" x="75" y="1305">Use nail clippers or scissors to</text>
<text class="cap" x="75" y="1343">trim excess nail stickers along</text>
<text class="cap" x="75" y="1380">the edge of the nail</text>
<text class="cap" x="558" y="1305">Cure strips under a UV lamp</text>
<text class="cap" x="558" y="1343">for 60 seconds</text>
<text class="cap" x="1032" y="1305">File the strip gently in one</text>
<text class="cap" x="1032" y="1343">direction for a flawless look</text>
</svg>
</body></html>
